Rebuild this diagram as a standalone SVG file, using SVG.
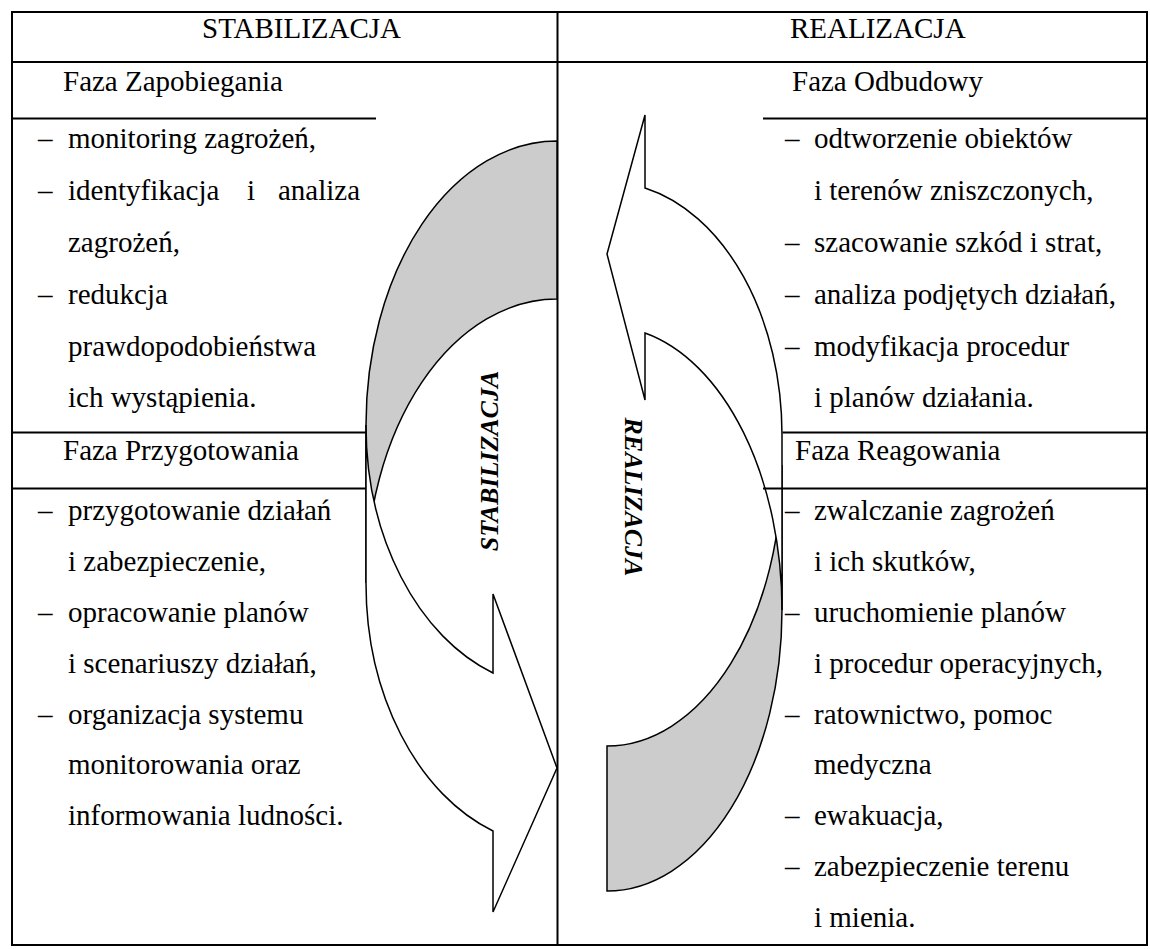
<svg xmlns="http://www.w3.org/2000/svg" width="1150" height="949" viewBox="0 0 1150 949">
<style>
.t{font-family:"Liberation Serif","Times New Roman",serif;font-size:29px;fill:#000}
.v{font-family:"Liberation Serif","Times New Roman",serif;font-size:26px;font-weight:bold;font-style:italic;fill:#000}
.ln{stroke:#000;stroke-width:2;fill:none}
.gray{fill:#cccccc;stroke:#000;stroke-width:1.5}
.front{fill:#fff;stroke:#000;stroke-width:1.5;stroke-linejoin:miter}
</style>
<rect width="1150" height="949" fill="#fff"/>
<g id="table">
<path class="ln" d="M12,12H1147V945H12Z"/>
<path class="ln" d="M557.5,12V945"/>
<path class="ln" d="M12,62H1147"/>
<path class="ln" d="M12,118.5H376M763,118.5H1147"/>
<path class="ln" d="M12,432.5H366M782.5,432.5H1147"/>
<path class="ln" d="M12,488.5H366"/>
</g>
<g id="arrow-stabilizacja">
<path class="gray" d="M557,141 A191,284 0 0 0 366,425 L366,583 A191,284 0 0 1 557,299 Z"/>
<path class="front" d="M366,425 L366,583 A191,263 0 0 0 493,831 L493,912 L557,768 L493,594 L493,673 A191,263 0 0 1 366,425 Z"/>
<text class="v" text-anchor="middle" transform="translate(498,461) rotate(-90)">STABILIZACJA</text>
</g>
<g id="arrow-realizacja">
<path class="gray" d="M607,891 A175,281 0 0 0 782,610 L782,465 A175,281 0 0 1 607,746 Z"/>
<path class="front" d="M782,610 L782,435 A175,253 0 0 0 645,188 L645,115 L607,254 L645,400 L645,333 A175,284 0 0 1 782,610 Z"/>
<text class="v" text-anchor="middle" transform="translate(625,497) rotate(90)">REALIZACJA</text>
</g>
<g id="connectors">
<path class="ln" d="M763,488.5H1147"/>
</g>
<g id="header-left"><text class="t" x="202" y="38">STABILIZACJA</text></g>
<g id="header-right"><text class="t" x="790" y="38">REALIZACJA</text></g>
<g id="faza-zapobiegania">
<text class="t" x="63" y="91">Faza Zapobiegania</text>
<text class="t" x="38" y="148">–</text><text class="t" x="68" y="148">monitoring zagrożeń,</text>
<text class="t" x="38" y="200">–</text><text class="t" x="68" y="200">identyfikacja</text><text class="t" x="247" y="200">i</text><text class="t" x="278" y="200">analiza</text>
<text class="t" x="68" y="252">zagrożeń,</text>
<text class="t" x="38" y="304">–</text><text class="t" x="68" y="304">redukcja</text>
<text class="t" x="68" y="355.5">prawdopodobieństwa</text>
<text class="t" x="68" y="406.5">ich wystąpienia.</text>
</g>
<g id="faza-przygotowania">
<text class="t" x="63" y="460">Faza Przygotowania</text>
<text class="t" x="38" y="520">–</text><text class="t" x="68" y="520">przygotowanie działań</text>
<text class="t" x="68" y="570.5">i zabezpieczenie,</text>
<text class="t" x="38" y="621.5">–</text><text class="t" x="68" y="621.5">opracowanie planów</text>
<text class="t" x="68" y="672.5">i scenariuszy działań,</text>
<text class="t" x="38" y="723.5">–</text><text class="t" x="68" y="723.5">organizacja systemu</text>
<text class="t" x="68" y="774">monitorowania oraz</text>
<text class="t" x="68" y="825">informowania ludności.</text>
</g>
<g id="faza-odbudowy">
<text class="t" x="792" y="91">Faza Odbudowy</text>
<text class="t" x="785" y="148">–</text><text class="t" x="814" y="148">odtworzenie obiektów</text>
<text class="t" x="814" y="200">i terenów zniszczonych,</text>
<text class="t" x="785" y="252">–</text><text class="t" x="814" y="252">szacowanie szkód i strat,</text>
<text class="t" x="785" y="304">–</text><text class="t" x="814" y="304">analiza podjętych działań,</text>
<text class="t" x="785" y="355.5">–</text><text class="t" x="814" y="355.5">modyfikacja procedur</text>
<text class="t" x="814" y="406.5">i planów działania.</text>
</g>
<g id="faza-reagowania">
<text class="t" x="795" y="460">Faza Reagowania</text>
<text class="t" x="785" y="520">–</text><text class="t" x="814" y="520">zwalczanie zagrożeń</text>
<text class="t" x="814" y="570.5">i ich skutków,</text>
<text class="t" x="785" y="621.5">–</text><text class="t" x="814" y="621.5">uruchomienie planów</text>
<text class="t" x="814" y="672.5">i procedur operacyjnych,</text>
<text class="t" x="785" y="723.5">–</text><text class="t" x="814" y="723.5">ratownictwo, pomoc</text>
<text class="t" x="814" y="774">medyczna</text>
<text class="t" x="785" y="825">–</text><text class="t" x="814" y="825">ewakuacja,</text>
<text class="t" x="785" y="876">–</text><text class="t" x="814" y="876">zabezpieczenie terenu</text>
<text class="t" x="814" y="927">i mienia.</text>
</g>
</svg>
